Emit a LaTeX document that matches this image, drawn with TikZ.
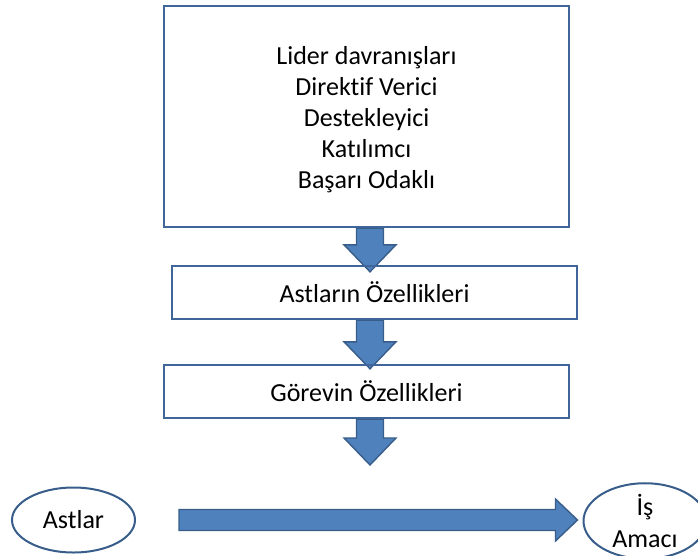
\documentclass[tikz,border=0pt]{standalone}
\usepackage{fontspec}
\setmainfont{Carlito}[Ligatures=NoCommon]
\usetikzlibrary{calc,shapes.geometric,backgrounds}

\definecolor{arrowfill}{HTML}{4F81BD}
\definecolor{arrowline}{HTML}{385D8A}
\definecolor{boxline}{HTML}{3F6599}

\begin{document}
\begin{tikzpicture}[x=1pt, y=-1pt, font=\fontsize{26}{31}\selectfont,
  box/.style={draw=boxline, line width=2.4pt, inner sep=0pt, align=center,
    minimum width=405pt},
  oval/.style={draw=arrowline, line width=2pt, ellipse, inner sep=0pt,
    minimum width=123pt, minimum height=65pt, align=center},
  blockarrow/.style={fill=arrowfill, draw=arrowline, line width=1.4pt},
  blockdown/.style={to path={let \p1=(\tikztostart), \p2=(\tikztotarget) in
    (\x1-13.5pt,\y1) -- (\x1-13.5pt,\y2+27pt) -- (\x1-26pt,\y2+27pt)
    -- (\x1,\y2) -- (\x1+26pt,\y2+27pt) -- (\x1+13.5pt,\y2+27pt)
    -- (\x1+13.5pt,\y1) -- cycle}},
  blockright/.style={to path={let \p1=(\tikztostart), \p2=(\tikztotarget) in
    (\x1,\y1+10.5pt) -- (\x2-22pt,\y1+10.5pt) -- (\x2-22pt,\y1+21pt)
    -- (\x2,\y1) -- (\x2-22pt,\y1-21pt) -- (\x2-22pt,\y1-10.5pt)
    -- (\x1,\y1-10.5pt) -- cycle}}]
  % page frame: 698 x 555, y running down
  \useasboundingbox (0,0) rectangle (698,555);

  % --- boxes ---
  \node[box, minimum height=221pt] (lider) at (366.5,116.5) {};
  \node[align=center] (liderlist) at (366.5,120)
    {Lider davranışları\\Direktif Verici\\Destekleyici\\Katılımcı\\Başarı Odaklı};
  \node[box, minimum height=53pt] (astozel) at (374.5,292.5) {Astların Özellikleri};
  \node[box, minimum height=53pt] (gorev) at (366.5,391.5) {Görevin Özellikleri};

  % --- ovals ---
  \node[oval] (astlar) at (73.5,520) {Astlar};
  \node[oval, font=\fontsize{26}{32}\selectfont] (amac) at (645,521) {İş\\Amacı};

  % --- block arrows (behind the box borders) ---
  \coordinate (gorevuc) at (370,465);
  \begin{scope}[on background layer]
    \draw[blockarrow] ([xshift=3.5pt]lider.south) to[blockdown] ([yshift=-7pt]astozel.north);
    \draw[blockarrow] ([xshift=-4.5pt]astozel.south) to[blockdown] ([yshift=-5pt]gorev.north);
    \draw[blockarrow] ([xshift=3.5pt]gorev.south) to[blockdown] (gorevuc);
  \end{scope}
  \draw[blockarrow] ([xshift=43pt]astlar.east) to[blockright] ([xshift=-5pt]amac.west);

\end{tikzpicture}
\end{document}
